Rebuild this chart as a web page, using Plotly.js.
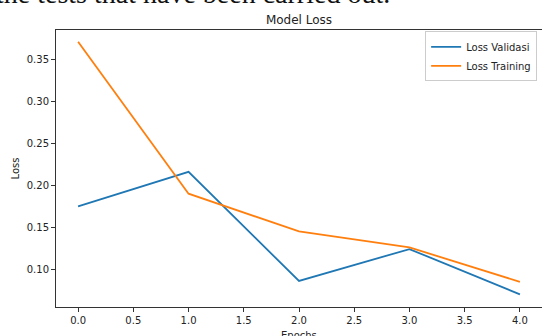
<!DOCTYPE html>
<html>
<head>
<meta charset="utf-8">
<script src="https://cdn.plot.ly/plotly-3.0.1.min.js"></script>
<style>html,body{margin:0;padding:0;background:#fff;}#chart{width:542px;height:336px;}</style>
</head>
<body>
<div id="chart"></div>
<script>
const epochs = [0, 1, 2, 3, 4];
const lossValidasi = [0.175, 0.216, 0.086, 0.124, 0.070];
const lossTraining = [0.371, 0.190, 0.145, 0.126, 0.085];
const seriesNames = ["Loss Validasi", "Loss Training"];
const chartTitle = "Model Loss";
const xLabel = "Epochs";
const yLabel = "Loss";
const captionText = "the tests that have been carried out.";

const traces = [
  {x: epochs, y: lossValidasi, name: seriesNames[0], type: "scatter", mode: "lines",
   line: {color: "#1f77b4", width: 1.8}},
  {x: epochs, y: lossTraining, name: seriesNames[1], type: "scatter", mode: "lines",
   line: {color: "#ff7f0e", width: 1.8}}
];

const axisCommon = {
  showline: true, mirror: true, linecolor: "#333", linewidth: 1,
  showgrid: false, zeroline: false,
  ticks: "outside", ticklen: 4, tickcolor: "#333", tickwidth: 1,
  tickfont: {family: "DejaVu Sans", size: 10, color: "#222"}
};

const layout = {
  width: 542, height: 336,
  margin: {l: 56, r: 0, t: 30, b: 29},
  paper_bgcolor: "#fff", plot_bgcolor: "#fff",
  showlegend: true,
  title: {text: chartTitle, font: {family: "DejaVu Sans", size: 12, color: "#222"},
          x: 0.5, xref: "paper", xanchor: "center", y: 1, yref: "paper", yanchor: "bottom", pad: {b: 6}},
  xaxis: Object.assign({}, axisCommon, {
    range: [-0.2, 4.2], dtick: 0.5, tick0: 0, tickformat: ".1f"
  }),
  yaxis: Object.assign({}, axisCommon, {
    range: [0.055, 0.385], dtick: 0.05, tick0: 0.1, tickformat: ".2f",
    title: {text: yLabel, font: {family: "DejaVu Sans", size: 10, color: "#222"}, standoff: 5}
  }),
  legend: {
    x: 0.99, y: 0.995, xanchor: "right", yanchor: "top",
    bgcolor: "rgba(255,255,255,0.9)", bordercolor: "#ccc", borderwidth: 1,
    font: {family: "DejaVu Sans", size: 10, color: "#222"},
    itemwidth: 30, tracegroupgap: 0
  },
  annotations: [{
    text: captionText, xref: "paper", yref: "paper",
    x: (392 - 56) / 486, y: 1, xanchor: "right", yanchor: "bottom", yshift: 19,
    showarrow: false, font: {family: "Liberation Serif", size: 28, color: "#111"}
  }, {
    text: xLabel, xref: "paper", yref: "paper",
    x: 0.5, y: 0, xanchor: "center", yanchor: "top", yshift: -21,
    showarrow: false, font: {family: "DejaVu Sans", size: 10, color: "#222"}
  }]
};

Plotly.newPlot("chart", traces, layout, {displayModeBar: false, staticPlot: true});
</script>
</body>
</html>
